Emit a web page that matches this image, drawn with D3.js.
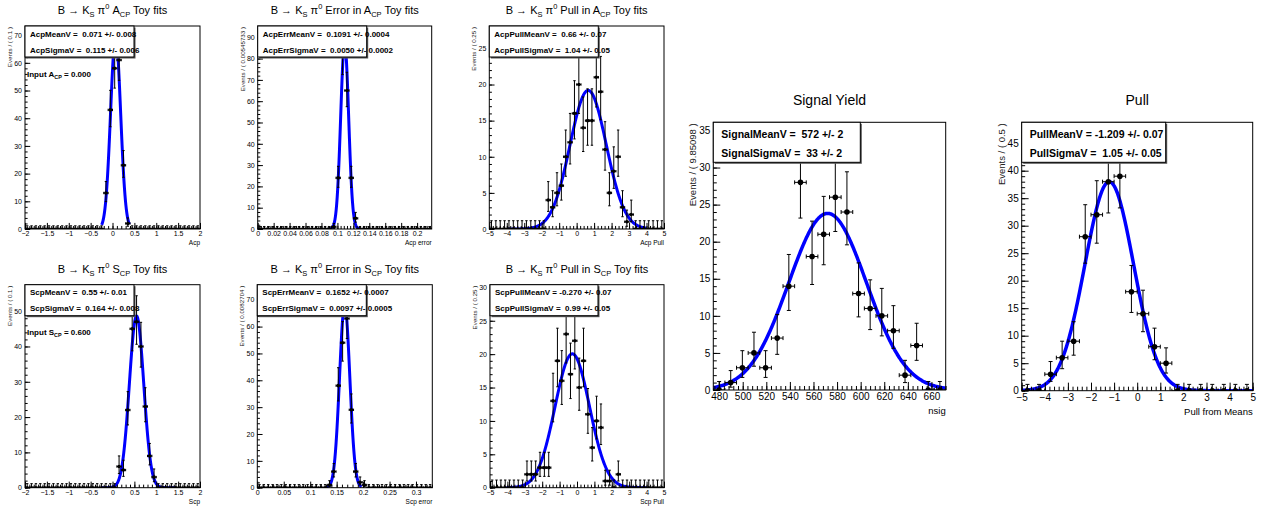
<!DOCTYPE html>
<html>
<head>
<meta charset="utf-8">
<title>Toy fits</title>
<style>
	body { margin: 0; background: #fff; }
	svg { display: block; font-family: "Liberation Sans", Arial, Helvetica, sans-serif; }
	text { white-space: pre; }
</style>
</head>
<body>
<svg width="1261" height="512"></svg>
<script src="https://d3js.org/d3.v7.min.js"></script>
<script>
// ---- data (200 toys per histogram) ----
const acpCounts     = [0,0,0,0,0,0,0,0,0,0, 0,0,0,0,0,0,0,0,13,43, 58,61,23,2,0,0,0,0,0,0, 0,0,0,0,0,0,0,0,0,0];
const acpErrCounts  = [0,0,0,0,0,0,0,0,0,0, 0,0,0,0,0,0,0,1,24,81, 65,24,5,0,0,0,0,0,0,0, 0,0,0,0,0,0,0,0,0,0];
const acpPullCounts = [0,0,0,0,0,0,0,0,0,0, 0,0,0,4,3,5,6,10,12,16, 20,14,15,15,21,19,11,5,8,10, 3,1,2,0,0,0,0,0,0,0];
const scpCounts     = [0,0,0,0,0,0,0,0,0,0, 0,0,0,0,0,0,0,0,0,0, 0,6,5,22,45,47,40,23,9,3, 0,0,0,0,0,0,0,0,0,0];
const scpErrCounts  = [0,0,0,0,0,0,0,0,0,0, 0,0,0,0,0,0,1,6,38,54, 63,29,6,2,1,0,0,0,0,0, 0,0,0,0,0,0,0,0,0,0];
const scpPullCounts = [0,0,0,0,0,0,0,0,2,2, 2,3,3,3,13,19,16,23,17,22, 15,19,11,6,10,9,1,1,0,2, 0,0,0,0,0,0,0,0,0,0];
const yieldCounts   = [0,1,3,5,3,7,14,28,18,21,26,24,13,11,10,8,2,6,0,0];
const pullCounts    = [0,0,3,6,9,28,32,38,39,18,14,8,5,0,0,0,0,0,0,0];
const allCounts = [acpCounts, acpErrCounts, acpPullCounts, scpCounts, scpErrCounts, scpPullCounts, yieldCounts, pullCounts];

// histogram ranges
const binLo = [-2, 0, -5, -2, 0, -5, 475.07, -5];
const binHi = [2, 0.2182932, 5, 2, 0.330816, 5, 672.0896, 5];
const yMax  = [73.3, 95.3, 28.1, 57.5, 75.6, 30.4, 36.1, 48.8];

// gaussian fit results
const fitMean  = [0.071, 0.1091, 0.66, 0.55, 0.1652, -0.270, 572, -1.209];
const fitSigma = [0.115, 0.0050, 1.04, 0.164, 0.0097, 0.99, 33, 1.05];
const curveLo  = [-0.247, 0.0891, -3.95, -0.26, 0.131, -4.05, 475.07, -5];
const curveHi  = [0.384, 0.128, 4.0, 1.45, 0.197, 4.0, 672.0896, 5];

// tick steps
const xMajor = [0.5, 0.02, 1, 0.5, 0.05, 1, 20, 1];
const xMinor = [0.1, 0.004, 0.2, 0.1, 0.01, 0.2, 4, 0.2];
const yMajor = [10, 10, 5, 10, 10, 5, 5, 5];
const yMinor = [2, 2, 1, 2, 2, 1, 1, 1];

// texts
const titles = [
	"B → K_{S} π^{0} A_{CP} Toy fits",
	"B → K_{S} π^{0} Error in A_{CP} Toy fits",
	"B → K_{S} π^{0} Pull in A_{CP} Toy fits",
	"B → K_{S} π^{0} S_{CP} Toy fits",
	"B → K_{S} π^{0} Error in S_{CP} Toy fits",
	"B → K_{S} π^{0} Pull in S_{CP} Toy fits",
	"Signal Yield",
	"Pull"
];
const xTitles = ["Acp", "Acp error", "Acp Pull", "Scp", "Scp error", "Scp Pull", "nsig", "Pull from Means"];
const yTitles = ["Events / ( 0.1 )", "Events / ( 0.00545733 )", "Events / ( 0.25 )", "Events / ( 0.1 )",
	"Events / ( 0.0082704 )", "Events / ( 0.25 )", "Events / ( 9.85098 )", "Events / ( 0.5 )"];
const meanLabels = ["AcpMeanV =  0.071 +/- 0.008", "AcpErrMeanV =  0.1091 +/- 0.0004", "AcpPullMeanV =  0.66 +/- 0.07",
	"ScpMeanV =  0.55 +/- 0.01", "ScpErrMeanV =  0.1652 +/- 0.0007", "ScpPullMeanV = -0.270 +/- 0.07",
	"SignalMeanV =  572 +/- 2", "PullMeanV = -1.209 +/- 0.07"];
const sigmaLabels = ["AcpSigmaV =  0.115 +/- 0.006", "AcpErrSigmaV =  0.0050 +/- 0.0002", "AcpPullSigmaV =  1.04 +/- 0.05",
	"ScpSigmaV =  0.164 +/- 0.008", "ScpErrSigmaV =  0.0097 +/- 0.0005", "ScpPullSigmaV =  0.99 +/- 0.05",
	"SignalSigmaV =  33 +/- 2", "PullSigmaV =  1.05 +/- 0.05"];
const inputLabels = ["Input A_{CP} = 0.000", null, null, "Input S_{CP} = 0.600", null, null, null, null];

// ---- layout (pixels) ----
const frames = [
	[25, 26, 200, 229], [257.7, 26, 431.7, 229], [489.3, 26, 664, 229],
	[25, 284.7, 200, 487.7], [257.3, 284.7, 432.3, 487.7], [490, 284.7, 664, 487.7],
	[713.3, 122.3, 945.7, 390], [1021.7, 122.3, 1252.7, 390.7]
];
const boxW = [109, 109, 109, 109, 109, 108, 147, 144];

const svg = d3.select('svg');
svg.append('rect').attr('width', 1261).attr('height', 512).attr('fill', '#fff');

function richText(sel, str, size) {
	const re = /([_^])\{([^}]*)\}/g;
	let last = 0, m, shift = 0;
	const seg = (t, kind) => {
		const target = kind === 0 ? 0 : (kind > 0 ? 0.28 * size : -0.42 * size);
		sel.append('tspan').attr('dy', target - shift)
			.attr('font-size', kind === 0 ? size : size * 0.68).text(t);
		shift = target;
	};
	while ((m = re.exec(str))) {
		if (m.index > last) seg(str.slice(last, m.index), 0);
		seg(m[2], m[1] === '_' ? 1 : -1);
		last = re.lastIndex;
	}
	if (last < str.length) seg(str.slice(last), 0);
}

const stepTicks = (d0, d1, step) => {
	const a = Math.ceil(d0 / step - 1e-9), b = Math.floor(d1 / step + 1e-9);
	return d3.range(a, b + 1).map(k => +(k * step).toFixed(10));
};
const fmt = v => String(v).replace('-', '\u2212');

allCounts.forEach((counts, i) => {
	const big = i >= 6;
	const [fx0, fy0, fx1, fy1] = frames[i];
	const x = d3.scaleLinear().domain([binLo[i], binHi[i]]).range([fx0, fx1]);
	const y = d3.scaleLinear().domain([0, yMax[i]]).range([fy1, fy0]);
	const g = svg.append('g');

	const clipId = 'clip' + i;
	svg.append('clipPath').attr('id', clipId)
		.append('rect').attr('x', fx0).attr('y', fy0).attr('width', fx1 - fx0).attr('height', fy1 - fy0);

	// fitted gaussian
	const bw = (binHi[i] - binLo[i]) / counts.length;
	const total = d3.sum(counts);
	const amp = total * bw / (fitSigma[i] * Math.sqrt(2 * Math.PI));
	const curve = d3.range(0, 501).map(j => {
		const xv = curveLo[i] + (curveHi[i] - curveLo[i]) * j / 500;
		return [xv, amp * Math.exp(-0.5 * ((xv - fitMean[i]) / fitSigma[i]) ** 2)];
	});
	g.append('path').attr('clip-path', `url(#${clipId})`)
		.attr('d', d3.line().x(d => x(d[0])).y(d => y(d[1]))(curve))
		.attr('fill', 'none').attr('stroke', '#0000ff').attr('stroke-width', big ? 3.5 : 3);

	// data points with poisson error bars
	const pts = counts.map((n, k) => ({
		c: binLo[i] + (k + 0.5) * bw, n,
		lo: n === 0 ? 0 : n + 0.5 - Math.sqrt(n + 0.25),
		hi: n === 0 ? 1.148 : n + 0.5 + Math.sqrt(n + 0.25)
	}));
	const cap = big ? 2 : 1.2;
	const pg = g.append('g').attr('clip-path', `url(#${clipId})`).attr('stroke', '#000').attr('stroke-width', 1);
	const pt = pg.selectAll('g').data(pts).join('g');
	pt.append('line').attr('x1', d => x(d.c)).attr('x2', d => x(d.c)).attr('y1', d => y(d.lo)).attr('y2', d => y(d.hi));
	pt.append('line').attr('x1', d => x(d.c) - cap).attr('x2', d => x(d.c) + cap).attr('y1', d => y(d.hi)).attr('y2', d => y(d.hi));
	pt.append('line').attr('x1', d => x(d.c) - cap).attr('x2', d => x(d.c) + cap).attr('y1', d => y(d.lo)).attr('y2', d => y(d.lo));
	pt.append('line').attr('x1', d => x(d.c - bw / 2)).attr('x2', d => x(d.c + bw / 2)).attr('y1', d => y(d.n)).attr('y2', d => y(d.n));
	pt.append('line').attr('x1', d => x(d.c - bw / 2)).attr('x2', d => x(d.c - bw / 2)).attr('y1', d => y(d.n) - cap).attr('y2', d => y(d.n) + cap);
	pt.append('line').attr('x1', d => x(d.c + bw / 2)).attr('x2', d => x(d.c + bw / 2)).attr('y1', d => y(d.n) - cap).attr('y2', d => y(d.n) + cap);
	pt.append('circle').attr('cx', d => x(d.c)).attr('cy', d => y(d.n)).attr('r', big ? 2.8 : 1.8)
		.attr('fill', '#000').attr('stroke', 'none');

	// axes
	const tickFont = big ? 10 : 7;
	const xLen = (fy1 - fy0) * 0.03, yLen = (fx1 - fx0) * 0.03;
	const xa = g.append('g').attr('transform', `translate(0,${fy1})`)
		.call(d3.axisBottom(x).tickValues(stepTicks(binLo[i], binHi[i], xMajor[i])).tickFormat(fmt)
			.tickSize(-xLen).tickSizeOuter(0).tickPadding(big ? 3 : 2));
	g.append('g').attr('transform', `translate(0,${fy1})`)
		.call(d3.axisBottom(x).tickValues(stepTicks(binLo[i], binHi[i], xMinor[i])).tickFormat('')
			.tickSize(-xLen / 2).tickSizeOuter(0));
	const ya = g.append('g').attr('transform', `translate(${fx0},0)`)
		.call(d3.axisLeft(y).tickValues(stepTicks(0, yMax[i], yMajor[i])).tickFormat(fmt)
			.tickSize(-yLen).tickSizeOuter(0).tickPadding(3));
	g.append('g').attr('transform', `translate(${fx0},0)`)
		.call(d3.axisLeft(y).tickValues(stepTicks(0, yMax[i], yMinor[i])).tickFormat('')
			.tickSize(-yLen / 2).tickSizeOuter(0));
	g.selectAll('.domain').remove();
	g.selectAll('.tick line').attr('stroke', '#000');
	[xa, ya].forEach(a => a.selectAll('text').attr('font-size', tickFont).attr('fill', '#000')
		.attr('font-family', '"Liberation Sans", Arial, sans-serif'));

	g.append('rect').attr('x', fx0).attr('y', fy0).attr('width', fx1 - fx0).attr('height', fy1 - fy0)
		.attr('fill', 'none').attr('stroke', '#000').attr('stroke-width', 1);

	// axis titles
	g.append('text').attr('x', fx1).attr('y', fy1 + (big ? 24 : 16)).attr('text-anchor', 'end')
		.attr('font-size', big ? 9.5 : 6.5).text(xTitles[i]);
	g.append('text').attr('transform', `translate(${fx0 - (big ? 17 : 13)},${fy0 + 1}) rotate(-90)`)
		.attr('text-anchor', 'end').attr('font-size', big ? 9.5 : 6.2).attr('fill', '#222').text(yTitles[i]);

	// title
	const tt = g.append('text').attr('x', (fx0 + fx1) / 2).attr('y', big ? fy0 - 17 : fy0 - 12)
		.attr('text-anchor', 'middle');
	richText(tt, titles[i], big ? 14 : 11);

	// stat box
	const bh = big ? 40 : 31;
	g.append('rect').attr('x', fx0 + 1.5).attr('y', fy0 + 1.5).attr('width', boxW[i]).attr('height', bh).attr('fill', '#555');
	g.append('rect').attr('x', fx0).attr('y', fy0).attr('width', boxW[i]).attr('height', bh)
		.attr('fill', '#fff').attr('stroke', '#000').attr('stroke-width', 1);
	const sf = big ? 10.5 : 8;
	g.append('text').attr('x', fx0 + (big ? 8 : 5)).attr('y', fy0 + (big ? 15.5 : 10.5))
		.attr('font-size', sf).attr('font-weight', 'bold').text(meanLabels[i]);
	g.append('text').attr('x', fx0 + (big ? 8 : 5)).attr('y', fy0 + (big ? 34.5 : 26.5))
		.attr('font-size', sf).attr('font-weight', 'bold').text(sigmaLabels[i]);

	if (inputLabels[i]) {
		const it = g.append('text').attr('x', fx0 + 2).attr('y', fy0 + 50.5)
			.attr('font-size', 8).attr('font-weight', 'bold');
		richText(it, inputLabels[i], 8);
	}
});
</script>
</body>
</html>
